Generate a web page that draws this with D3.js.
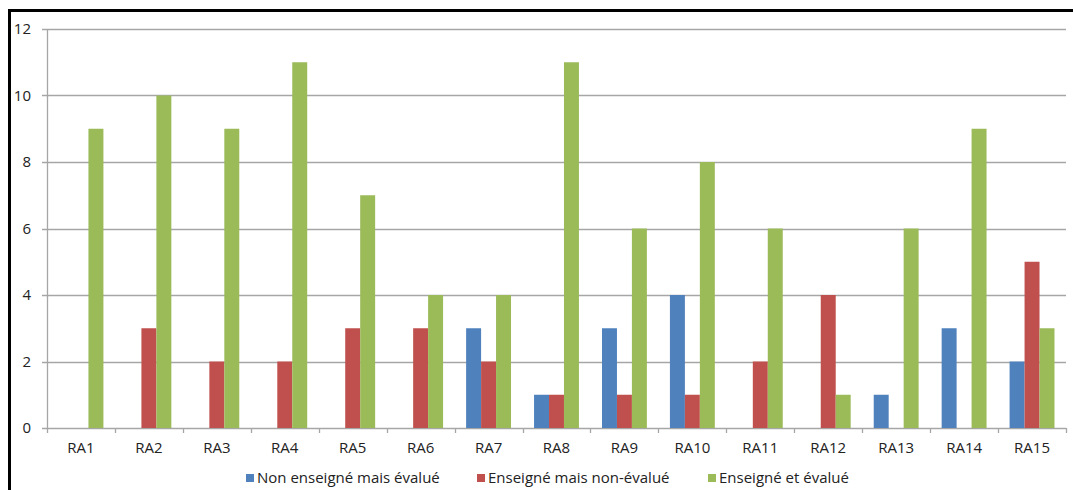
<!DOCTYPE html>
<html>
<head>
<meta charset="utf-8">
<script src="https://cdn.jsdelivr.net/npm/d3@7"></script>
<style>
  body { margin: 0; background: #fff; }
  svg { display: block; font-family: "Open Sans", Lato, sans-serif; }
</style>
</head>
<body>
<svg id="grafica" width="1073" height="490"></svg>
<script>
var categories = ["RA1","RA2","RA3","RA4","RA5","RA6","RA7","RA8","RA9","RA10","RA11","RA12","RA13","RA14","RA15"];
var seriesNames = ["Non enseigné mais évalué", "Enseigné mais non-évalué", "Enseigné et évalué"];
var nonEnseigneEvalue = [0,0,0,0,0,0,3,1,3,4,0,0,1,3,2];
var enseigneNonEvalue = [0,3,2,2,3,3,2,1,1,1,2,4,0,0,5];
var enseigneEvalue    = [9,10,9,11,7,4,4,11,6,8,6,1,6,9,3];
var yTicks = [0,2,4,6,8,10,12];
var colors = ["#4f81bd", "#c0504d", "#9bbb59"];

var seriesValues = [nonEnseigneEvalue, enseigneNonEvalue, enseigneEvalue];
var data = categories.map((c, i) => ({
  name: c,
  values: seriesValues.map((s, k) => ({ key: k, value: s[i] }))
}));

var svg = d3.select("#grafica"),
  margin = {top: 29, left: 47, right: 7, bottom: 62},
  width = +svg.attr("width"),
  height = +svg.attr("height");

// frame
svg.append("path")
  .attr("d", `M9.5,490 V10.5 H1073`)
  .attr("fill", "none")
  .attr("stroke", "#000")
  .attr("stroke-width", 3);

var x = d3.scaleBand()
  .domain(categories)
  .range([margin.left, width - margin.right])
  .paddingInner(0)
  .paddingOuter(0);

var x1 = d3.scaleBand()
  .domain([0, 1, 2])
  .range([0, x.bandwidth()])
  .paddingOuter(0.77)
  .paddingInner(0);

var y = d3.scaleLinear()
  .domain([0, 12])
  .range([height - margin.bottom, margin.top]);

// grid
svg.append("g")
  .selectAll("line")
  .data(yTicks)
  .join("line")
  .attr("x1", margin.left - 5)
  .attr("x2", width - margin.right)
  .attr("y1", d => Math.round(y(d)) + 0.5)
  .attr("y2", d => Math.round(y(d)) + 0.5)
  .attr("stroke", "#a6a6a6")
  .attr("stroke-width", 1.3);

// y labels
svg.append("g")
  .selectAll("text")
  .data(yTicks)
  .join("text")
  .attr("x", 31)
  .attr("y", d => y(d))
  .attr("dy", "0.35em")
  .attr("text-anchor", "end")
  .attr("font-size", 15)
  .attr("fill", "#222")
  .text(d => d);

// y axis line
svg.append("line")
  .attr("x1", margin.left + 0.5).attr("x2", margin.left + 0.5)
  .attr("y1", y(12)).attr("y2", y(0))
  .attr("stroke", "#a6a6a6")
  .attr("stroke-width", 1.3);

// x ticks
var xTickPos = categories.map(c => x(c)).concat([x(categories[categories.length - 1]) + x.bandwidth()]);
svg.append("g")
  .selectAll("line")
  .data(xTickPos)
  .join("line")
  .attr("x1", d => Math.round(d) + 0.5)
  .attr("x2", d => Math.round(d) + 0.5)
  .attr("y1", y(0))
  .attr("y2", y(0) + 5)
  .attr("stroke", "#a6a6a6")
  .attr("stroke-width", 1.3);

// bars
var groups = svg.append("g")
  .selectAll("g")
  .data(data)
  .join("g")
  .attr("transform", d => `translate(${x(d.name)},0)`);

groups.selectAll("rect")
  .data(d => d.values.filter(v => v.value > 0))
  .join("rect")
  .attr("x", d => x1(d.key))
  .attr("y", d => y(d.value))
  .attr("width", x1.bandwidth())
  .attr("height", d => y(0) - y(d.value))
  .attr("fill", d => colors[d.key]);

// x labels
svg.append("g")
  .selectAll("text")
  .data(categories)
  .join("text")
  .attr("x", d => x(d) + x.bandwidth() / 2)
  .attr("y", 453)
  .attr("text-anchor", "middle")
  .attr("font-size", 15)
  .attr("fill", "#222")
  .text(d => d);

// legend
var legendX = [246, 477, 708];
var legend = svg.append("g")
  .selectAll("g")
  .data(seriesNames)
  .join("g")
  .attr("transform", (d, i) => `translate(${legendX[i]},478)`);

legend.append("rect")
  .attr("x", 0).attr("y", -4)
  .attr("width", 8).attr("height", 8)
  .attr("fill", (d, i) => colors[i]);

legend.append("text")
  .attr("x", 11)
  .attr("dy", "0.35em")
  .attr("font-size", 15)
  .attr("fill", "#222")
  .text(d => d);
</script>
</body>
</html>
